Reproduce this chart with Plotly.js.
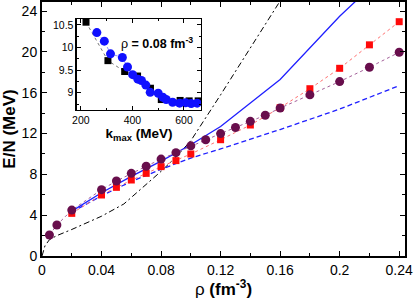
<!DOCTYPE html>
<html>
<head>
<meta charset="utf-8">
<script src="https://cdn.plot.ly/plotly-3.0.1.min.js"></script>
<style>html,body{margin:0;padding:0;background:#fff;}#chart{width:415px;height:299px;}</style>
</head>
<body>
<div id="chart"></div>
<script>
// ---- main panel data ----
const purpleRho = [0.005, 0.01, 0.02, 0.04, 0.05, 0.06, 0.07, 0.08, 0.09, 0.1, 0.11, 0.12, 0.13, 0.14, 0.15, 0.16, 0.18, 0.2, 0.22, 0.24];
const purpleEN  = [2.06, 3.04, 4.5, 6.5, 7.35, 8.1, 8.8, 9.5, 10.13, 10.8, 11.4, 12.0, 12.6, 13.2, 13.8, 14.5, 15.8, 17.1, 18.5, 19.97];

const redRho = [0.02, 0.04, 0.05, 0.06, 0.07, 0.08, 0.09, 0.1, 0.12, 0.14, 0.16, 0.18, 0.2, 0.22, 0.24];
const redEN  = [4.18, 5.98, 6.73, 7.45, 8.1, 8.76, 9.35, 10.0, 11.4, 12.84, 14.54, 16.4, 18.4, 20.7, 22.97];

const blueSolidRho = [0.02, 0.04, 0.06, 0.08, 0.1, 0.12, 0.16, 0.2, 0.24];
const blueSolidEN  = [4.4, 6.2, 7.8, 9.3, 10.9, 12.7, 17.3, 23.5, 29.0];

const blueDashRho = [0.02, 0.04, 0.06, 0.08, 0.1, 0.12, 0.16, 0.2, 0.24];
const blueDashEN  = [4.3, 5.9, 7.3, 8.5, 9.6, 10.5, 12.4, 14.4, 16.7];

const dashDotRho = [0, 0.002, 0.005, 0.01, 0.02, 0.04, 0.055, 0.065, 0.08, 0.09, 0.1, 0.12, 0.14, 0.16, 0.17];
const dashDotEN  = [0, 1.0, 1.6, 2.0, 2.6, 3.9, 5.1, 6.4, 8.3, 9.7, 11.3, 15.8, 20.4, 25.0, 27.3];

const xTickVals = [0, 0.04, 0.08, 0.12, 0.16, 0.2, 0.24];
const xTickText = ["0", "0.04", "0.08", "0.12", "0.16", "0.2", "0.24"];
const yTickVals = [0, 4, 8, 12, 16, 20, 24];
const yTickText = ["0", "4", "8", "12", "16", "20", "24"];

// ---- inset data (rho = 0.08 fm^-3) ----
const sqK  = [220, 305, 370, 420, 470, 512, 585, 620, 655];
const sqEN = [10.56, 9.71, 9.47, 9.37, 9.10, 8.85, 8.83, 8.82, 8.82];

const circK  = [262, 291, 315, 361, 381, 401, 421, 435, 452, 469, 500, 518, 531, 556, 583, 606, 628, 651];
const circEN = [10.33, 10.14, 9.86, 9.78, 9.57, 9.40, 9.30, 9.27, 9.17, 9.01, 8.99, 8.90, 8.85, 8.79, 8.77, 8.78, 8.76, 8.77];

const inXTickVals = [200, 400, 600];
const inXTickText = ["200", "400", "600"];
const inYTickVals = [9, 9.5, 10, 10.5];
const inYTickText = ["9", "9.5", "10", "10.5"];

const traces = [
  {x: dashDotRho, y: dashDotEN, mode: 'lines', line: {color: '#000', width: 1, dash: '6px,3px,2px,3px'}, xaxis: 'x', yaxis: 'y', hoverinfo: 'skip'},
  {x: blueDashRho, y: blueDashEN, mode: 'lines', line: {color: '#1f1fff', width: 1.3, dash: '5px,3px'}, xaxis: 'x', yaxis: 'y'},
  {x: blueSolidRho, y: blueSolidEN, mode: 'lines', line: {color: '#1f1fff', width: 1.3}, xaxis: 'x', yaxis: 'y'},
  {x: redRho, y: redEN, mode: 'lines+markers', line: {color: '#ff7070', width: 1, dash: 'dot'}, marker: {symbol: 'square', size: 7, color: '#ff0a0a'}, xaxis: 'x', yaxis: 'y'},
  {x: purpleRho, y: purpleEN, mode: 'lines+markers', line: {color: '#a4609a', width: 1, dash: 'dot'}, marker: {symbol: 'circle', size: 9, color: '#680e4c'}, xaxis: 'x', yaxis: 'y'},
  {x: sqK, y: sqEN, mode: 'lines+markers', line: {color: '#777', width: 1, dash: 'dot'}, marker: {symbol: 'square', size: 7, color: '#000'}, xaxis: 'x2', yaxis: 'y2'},
  {x: circK, y: circEN, mode: 'lines+markers', line: {color: '#8f8fff', width: 1, dash: 'dot'}, marker: {symbol: 'circle', size: 9, color: '#1010ff'}, xaxis: 'x2', yaxis: 'y2'}
];

const axisCommon = {
  showline: true, linecolor: '#000', linewidth: 2, mirror: 'allticks',
  ticks: 'inside', ticklen: 5, tickwidth: 1, tickcolor: '#000',
  showgrid: false, zeroline: false
};

const layout = {
  width: 415, height: 299,
  margin: {l: 42, r: 10, t: 2, b: 43},
  paper_bgcolor: '#fff', plot_bgcolor: '#fff',
  showlegend: false,
  font: {family: '"Liberation Sans", Arial, sans-serif', color: '#000'},
  xaxis: Object.assign({}, axisCommon, {
    range: [0, 0.2439], tickmode: 'array', tickvals: xTickVals, ticktext: xTickText,
    tickfont: {size: 14},
    minor: {ticks: 'inside', ticklen: 3, tickmode: 'linear', tick0: 0, dtick: 0.02, tickcolor: '#000', showgrid: false},
    title: {text: 'ρ <b>(fm<sup>-3</sup>)</b>', font: {size: 17}, standoff: 2}
  }),
  yaxis: Object.assign({}, axisCommon, {
    range: [0, 24.9], tickmode: 'array', tickvals: yTickVals, ticktext: yTickText,
    tickfont: {size: 14},
    minor: {ticks: 'inside', ticklen: 3, tickmode: 'linear', tick0: 0, dtick: 2, tickcolor: '#000', showgrid: false},
    title: {text: '<b>E/N (MeV)</b>', font: {size: 17}, standoff: 5}
  }),
  xaxis2: Object.assign({}, axisCommon, {
    domain: [0.0964, 0.438], anchor: 'y2',
    range: [185, 666], tickmode: 'array', tickvals: inXTickVals, ticktext: inXTickText,
    tickfont: {size: 10.5}, ticklen: 4, linewidth: 1.5,
    minor: {ticks: 'inside', ticklen: 2, tickmode: 'linear', tick0: 0, dtick: 100, tickcolor: '#000', showgrid: false},
    title: {text: '<b>k<sub>max</sub> (MeV)</b>', font: {size: 13.5}, standoff: 1}
  }),
  yaxis2: Object.assign({}, axisCommon, {
    domain: [0.575, 0.933], anchor: 'x2',
    range: [8.62, 10.63], tickmode: 'array', tickvals: inYTickVals, ticktext: inYTickText,
    tickfont: {size: 10.5}, ticklen: 4, linewidth: 1.5,
    minor: {ticks: 'inside', ticklen: 2, tickmode: 'linear', tick0: 0, dtick: 0.25, tickcolor: '#000', showgrid: false}
  }),
  annotations: [
    {xref: 'x2', yref: 'y2', x: 496, y: 10.1, text: 'ρ <b>= 0.08 fm<sup>-3</sup></b>', showarrow: false, font: {size: 12.5}}
  ]
};

Plotly.newPlot('chart', traces, layout, {staticPlot: true, displayModeBar: false});
</script>
</body>
</html>
